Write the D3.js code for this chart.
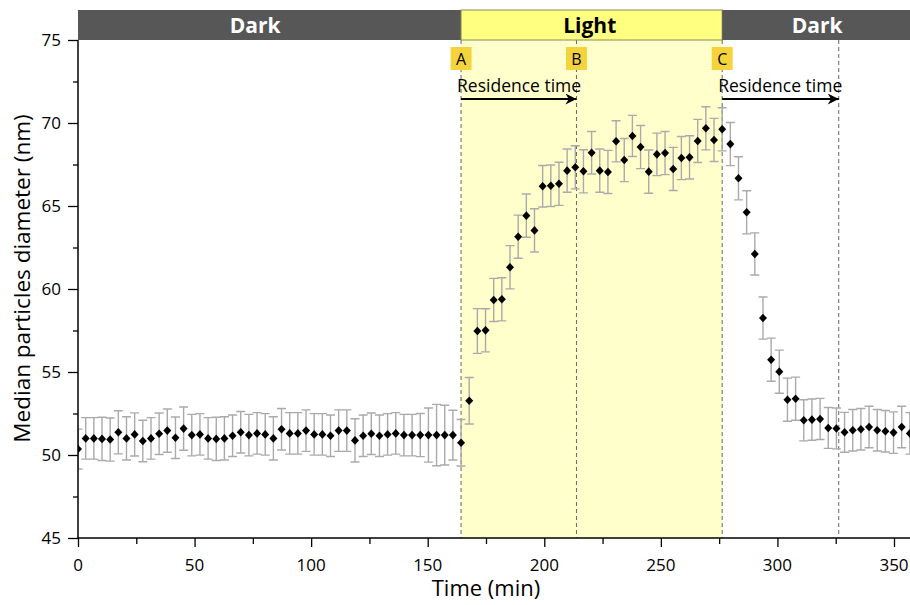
<!DOCTYPE html>
<html>
<head>
<meta charset="utf-8">
<script src="https://cdn.jsdelivr.net/npm/d3@7"></script>
<style>
  body { margin: 0; background: #fff; }
  text { font-family: "Open Sans", "Noto Sans", sans-serif; }
</style>
</head>
<body>
<svg id="chart" width="910" height="605"></svg>
<script>
// time (min) of each measurement
const times = [
  0, 3.3, 6.8, 10.3, 13.8, 17.3, 20.8, 24.3, 27.8, 31.3, 34.8, 38.3, 41.8, 45.3, 48.8, 52.3,
  55.8, 59.3, 62.8, 66.3, 69.8, 73.3, 76.8, 80.3, 83.8, 87.3, 90.8, 94.3, 97.8, 101.3, 104.8,
  108.3, 111.8, 115.3, 118.8, 122.3, 125.8, 129.3, 132.8, 136.3, 139.8, 143.3, 146.8, 150.3,
  153.8, 157.3, 160.8, 164.3,
  167.8, 171.3, 174.8, 178.3, 181.8, 185.3, 188.8, 192.3, 195.8, 199.3, 202.8, 206.3, 209.8,
  213.3, 216.8, 220.3, 223.8, 227.3, 230.8, 234.3, 237.8, 241.3, 244.8, 248.3, 251.8, 255.3,
  258.8, 262.3, 265.8, 269.3, 272.8, 276.3, 279.8, 283.3, 286.8, 290.3, 293.8, 297.3, 300.8,
  304.3, 307.8, 311.3, 314.8, 318.3, 321.8, 325.3, 328.8, 332.3, 335.8, 339.3, 342.8, 346.3,
  349.8, 353.3, 356.8
];

// median particle diameter (nm)
const diameter = [
  50.36, 51.0, 51.0, 50.97, 50.93, 51.37, 51.0, 51.24, 50.84, 51.0,
  51.28, 51.47, 51.04, 51.59, 51.2, 51.24, 51.0, 50.97, 51.0, 51.16,
  51.37, 51.2, 51.3, 51.24, 51.0, 51.55, 51.3, 51.3, 51.47, 51.24,
  51.24, 51.16, 51.47, 51.47, 50.88, 51.16, 51.28, 51.16, 51.24, 51.3,
  51.2, 51.2, 51.2, 51.2, 51.2, 51.2, 51.2, 50.74,
  53.27, 57.47, 57.51, 59.34, 59.38, 61.31, 63.15, 64.42, 63.53, 66.19,
  66.22, 66.34, 67.13, 67.33, 67.09, 68.21, 67.13, 67.05, 68.9, 67.77,
  69.22, 68.55, 67.07, 68.11, 68.19, 67.23, 67.89, 67.93, 68.92, 69.68,
  68.98, 69.62, 68.73,
  66.67, 64.62, 62.11, 58.25, 55.74, 55.02, 53.33, 53.39, 52.09, 52.13,
  52.17, 51.63, 51.6, 51.37, 51.49, 51.55, 51.69, 51.49, 51.43, 51.35,
  51.69, 51.3
];

// standard deviation (nm)
const stdev = [
  1.2, 1.25, 1.25, 1.3, 1.3, 1.3, 1.3, 1.3, 1.25, 1.25,
  1.25, 1.3, 1.25, 1.3, 1.25, 1.25, 1.25, 1.3, 1.3, 1.25,
  1.25, 1.25, 1.25, 1.25, 1.3, 1.25, 1.25, 1.25, 1.25, 1.25,
  1.25, 1.25, 1.25, 1.25, 1.3, 1.25, 1.25, 1.25, 1.25, 1.25,
  1.25, 1.25, 1.3, 1.63, 1.85, 1.8, 1.5, 1.4,
  1.4, 1.35, 1.3, 1.3, 1.3, 1.3, 1.3, 1.3, 1.3, 1.25,
  1.25, 1.3, 1.3, 1.3, 1.3, 1.28, 1.3, 1.3, 1.24, 1.3,
  1.24, 1.3, 1.3, 1.28, 1.3, 1.3, 1.3, 1.3, 1.3, 1.3,
  1.3, 1.3, 1.3,
  1.3, 1.3, 1.27, 1.27, 1.3, 1.3, 1.3, 1.3, 1.24, 1.24,
  1.24, 1.23, 1.23, 1.2, 1.25, 1.25, 1.25, 1.25, 1.25, 1.25,
  1.25, 1.25
];

// light / dark phases along the top bar
const phaseNames = ["Dark", "Light", "Dark"];
const phaseStart = [0, 164.3, 276.3];
const phaseEnd = [164.3, 276.3, 360];
const phaseLabelAt = [76, 219.5, 317];

// event markers and residence-time marks
const markerNames = ["A", "B", "C"];
const markerTimes = [164.3, 213.8, 276.3];
const dashedTimes = [164.3, 213.8, 276.3, 326.3];
const residenceFrom = [164.3, 276.3];
const residenceTo = [213.8, 326.3];

const xTicks = [0, 50, 100, 150, 200, 250, 300, 350];
const yTicks = [45, 50, 55, 60, 65, 70, 75];

const W = 910, H = 605;

const svg = d3.select("#chart");

const x = d3.scaleLinear().domain([0, 350]).range([78, 894]);
const y = d3.scaleLinear().domain([45, 75]).range([538, 40]);

const defs = svg.append("defs");
defs.append("clipPath").attr("id", "plotClip")
  .append("rect").attr("x", 78).attr("y", 0).attr("width", W - 78).attr("height", 538);
defs.append("marker")
  .attr("id", "arrow").attr("viewBox", "0 0 10 10")
  .attr("refX", 10).attr("refY", 5)
  .attr("markerWidth", 6).attr("markerHeight", 5)
  .attr("markerUnits", "strokeWidth")
  .attr("orient", "auto")
  .append("path").attr("d", "M0,0 L10,5 L0,10 L3,5 Z").attr("fill", "#000");

const plot = svg.append("g").attr("clip-path", "url(#plotClip)");

// light period shading
plot.append("rect")
  .attr("x", x(phaseStart[1])).attr("y", y(75))
  .attr("width", x(phaseEnd[1]) - x(phaseStart[1]))
  .attr("height", y(45) - y(75))
  .attr("fill", "#ffffcc");

// dashed verticals
plot.selectAll("line.dash")
  .data(dashedTimes).enter().append("line")
  .attr("class", "dash")
  .attr("x1", d => x(d)).attr("x2", d => x(d))
  .attr("y1", y(75)).attr("y2", y(45))
  .attr("stroke", "#666").attr("stroke-width", 1)
  .attr("stroke-dasharray", "4,3");

// top phase bar
const bar = svg.append("g");
bar.selectAll("rect")
  .data(phaseNames).enter().append("rect")
  .attr("x", (d, i) => x(phaseStart[i]))
  .attr("y", 10)
  .attr("width", (d, i) => Math.min(x(phaseEnd[i]), W) - x(phaseStart[i]))
  .attr("height", 30)
  .attr("fill", d => d === "Light" ? "#ffff80" : "#575757")
  .attr("stroke", d => d === "Light" ? "#8a8a5a" : "none")
  .attr("stroke-width", 1);
bar.selectAll("text")
  .data(phaseNames).enter().append("text")
  .attr("x", (d, i) => x(phaseLabelAt[i]))
  .attr("y", 33)
  .attr("text-anchor", "middle")
  .attr("font-size", 21).attr("font-weight", "bold")
  .attr("fill", d => d === "Light" ? "#000" : "#fff")
  .text(d => d);

// A / B / C tags
const tags = svg.append("g");
tags.selectAll("rect")
  .data(markerTimes).enter().append("rect")
  .attr("x", d => x(d) - 10.5).attr("y", 47)
  .attr("width", 21).attr("height", 23)
  .attr("fill", "#f5d33c");
tags.selectAll("text")
  .data(markerNames).enter().append("text")
  .attr("x", (d, i) => x(markerTimes[i]))
  .attr("y", 65)
  .attr("text-anchor", "middle")
  .attr("font-size", 16)
  .text(d => d);

// residence time arrows
const res = svg.append("g");
res.selectAll("line")
  .data(residenceFrom).enter().append("line")
  .attr("x1", d => x(d)).attr("x2", (d, i) => x(residenceTo[i]))
  .attr("y1", 99).attr("y2", 99)
  .attr("stroke", "#000").attr("stroke-width", 2.2)
  .attr("marker-end", "url(#arrow)");
res.selectAll("text")
  .data(residenceFrom).enter().append("text")
  .attr("x", d => x(d) - 4)
  .attr("y", 92)
  .attr("font-size", 17.5)
  .text("Residence time");

// error bars
const pts = times.map((t, i) => ({ t: t, v: diameter[i], e: stdev[i] }));
const eb = plot.append("g").attr("stroke", "#aaa").attr("stroke-width", 1.4).attr("fill", "none");
eb.selectAll("path")
  .data(pts).enter().append("path")
  .attr("d", d => {
    const cx = x(d.t), y1 = y(d.v + d.e), y2 = y(d.v - d.e);
    return `M${cx},${y1}V${y2}M${cx - 4.5},${y1}H${cx + 4.5}M${cx - 4.5},${y2}H${cx + 4.5}`;
  });

// diamonds
plot.append("g").selectAll("path")
  .data(pts).enter().append("path")
  .attr("transform", d => `translate(${x(d.t)},${y(d.v)})`)
  .attr("d", "M0,-4.3L4,0L0,4.3L-4,0Z")
  .attr("fill", "#000");

// axes
const xAxis = svg.append("g").attr("transform", `translate(0,${y(45)})`);
xAxis.call(d3.axisBottom(x).tickValues(d3.range(0, 360, 25)).tickSize(9).tickFormat(""))
  .call(g => g.select(".domain").remove());
xAxis.selectAll(".tick").filter(d => d % 50 !== 0).select("line").attr("y2", 6);
xAxis.selectAll(".tick line").attr("stroke-width", 1.3);
xAxis.append("line").attr("x1", 78).attr("x2", W).attr("stroke", "#000").attr("stroke-width", 1.5);
xAxis.selectAll("text.lbl")
  .data(xTicks).enter().append("text")
  .attr("class", "lbl")
  .attr("x", d => x(d)).attr("y", 33)
  .attr("text-anchor", "middle")
  .attr("font-size", 17).attr("fill", "#000")
  .attr("font-family", "'Liberation Sans Narrow', 'Open Sans', sans-serif")
  .text(d => d);

const yAxis = svg.append("g").attr("transform", `translate(${x(0)},0)`);
yAxis.call(d3.axisLeft(y).tickValues(d3.range(45, 75.1, 2.5)).tickSize(10).tickFormat(""))
  .call(g => g.select(".domain").remove());
yAxis.selectAll(".tick").filter(d => d % 5 !== 0).select("line").attr("x2", -5);
yAxis.selectAll(".tick line").attr("stroke-width", 1.3);
yAxis.append("line").attr("y1", y(75)).attr("y2", y(45)).attr("stroke", "#000").attr("stroke-width", 1.5);
yAxis.selectAll("text.lbl")
  .data(yTicks).enter().append("text")
  .attr("class", "lbl")
  .attr("x", -17).attr("y", d => y(d) + 6)
  .attr("text-anchor", "end")
  .attr("font-size", 17).attr("fill", "#000")
  .text(d => d);

// axis titles
svg.append("text")
  .attr("x", 486).attr("y", 596)
  .attr("text-anchor", "middle")
  .attr("font-size", 22)
  .text("Time (min)");
svg.append("text")
  .attr("transform", `translate(30,${(95 + 462) / 2}) rotate(-90)`)
  .attr("text-anchor", "middle")
  .attr("font-size", 22.5)
  .text("Median particles diameter (nm)");
</script>
</body>
</html>
